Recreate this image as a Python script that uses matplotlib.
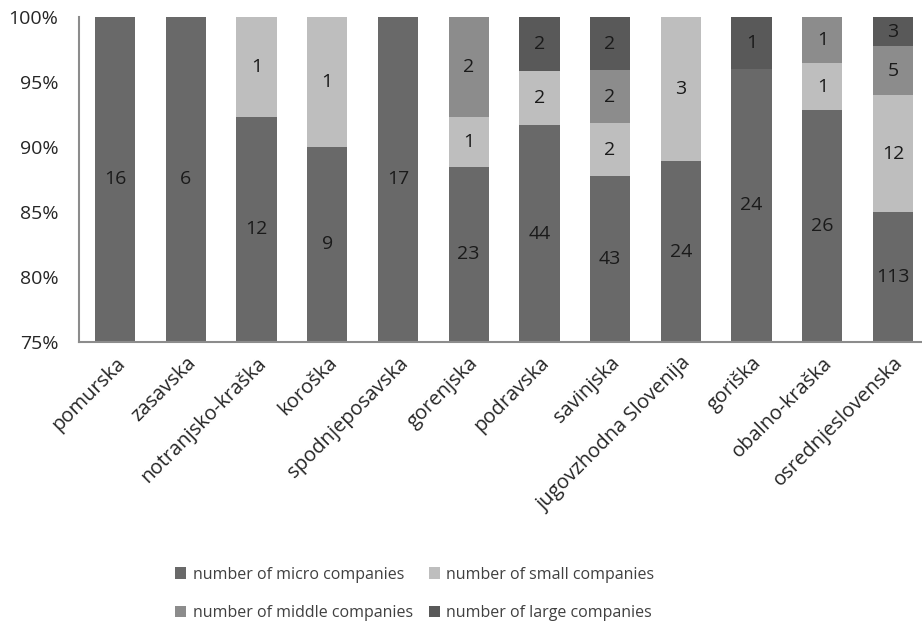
import numpy as np
import matplotlib.pyplot as plt

plt.rcParams['font.family'] = ['Open Sans', 'DejaVu Sans']

regions = ['pomurska', 'zasavska', 'notranjsko-kraška', 'koroška', 'spodnjeposavska',
           'gorenjska', 'podravska', 'savinjska', 'jugovzhodna Slovenija', 'goriška',
           'obalno-kraška', 'osrednjeslovenska']
micro = [16, 6, 12, 9, 17, 23, 44, 43, 24, 24, 26, 113]
small = [0, 0, 1, 1, 0, 1, 2, 2, 3, 0, 1, 12]
middle = [0, 0, 0, 0, 0, 2, 0, 2, 0, 0, 1, 5]
large = [0, 0, 0, 0, 0, 0, 2, 2, 0, 1, 0, 3]

series = [
    ('number of micro companies', micro, '#696969'),
    ('number of small companies', small, '#bebebe'),
    ('number of middle companies', middle, '#8c8c8c'),
    ('number of large companies', large, '#595959'),
]

ymin, ymax = 75, 100
totals = np.array(micro) + np.array(small) + np.array(middle) + np.array(large)
x = np.arange(len(regions))

fig = plt.figure(figsize=(9.22, 6.29), dpi=100)
ax = fig.add_axes([0.0857, 0.4563, 0.9143, 0.5167])

bottom = np.zeros(len(regions))
for name, vals, color in series:
    vals = np.array(vals)
    pct = vals / totals * 100
    ax.bar(x, pct, 0.57, bottom=bottom, color=color, label=name, zorder=2)
    # value labels sit in the middle of the visible part of each segment
    for i in range(len(regions)):
        if vals[i] == 0:
            continue
        lo = max(bottom[i], ymin)
        hi = min(bottom[i] + pct[i], ymax)
        if hi <= lo:
            continue
        ax.text(x[i], (lo + hi) / 2, str(vals[i]), ha='center', va='center',
                fontsize=14, color='#1a1a1a', zorder=3)
    bottom += pct

ax.set_ylim(ymin, ymax)
ax.set_xlim(-0.51, 11.41)
ax.set_yticks(range(75, 101, 5))
ax.set_yticklabels([f'{v}%' for v in range(75, 101, 5)])
ax.set_xticks(x)
ax.set_xticklabels(regions, rotation=45, ha='right', rotation_mode='anchor')
ax.tick_params(axis='both', length=0, labelcolor='#262626')
ax.tick_params(axis='y', pad=15, labelsize=14)
ax.tick_params(axis='x', pad=8, labelsize=14.5)

for side in ['top', 'right']:
    ax.spines[side].set_visible(False)
for side in ['left', 'bottom']:
    ax.spines[side].set_color('#8c8c8c')
    ax.spines[side].set_linewidth(1.5)

# fill the legend row by row: micro, small / middle, large
handles, labels = ax.get_legend_handles_labels()
order = [0, 2, 1, 3]
fig.legend([handles[k] for k in order], [labels[k] for k in order],
           loc='center', bbox_to_anchor=(0.45, 0.056), ncol=2,
           frameon=False, fontsize=11.5, handlelength=0.7, handleheight=0.7,
           handletextpad=0.4, columnspacing=1.0, labelspacing=1.4,
           labelcolor='#404040')

fig.savefig('out.png', dpi=100)
